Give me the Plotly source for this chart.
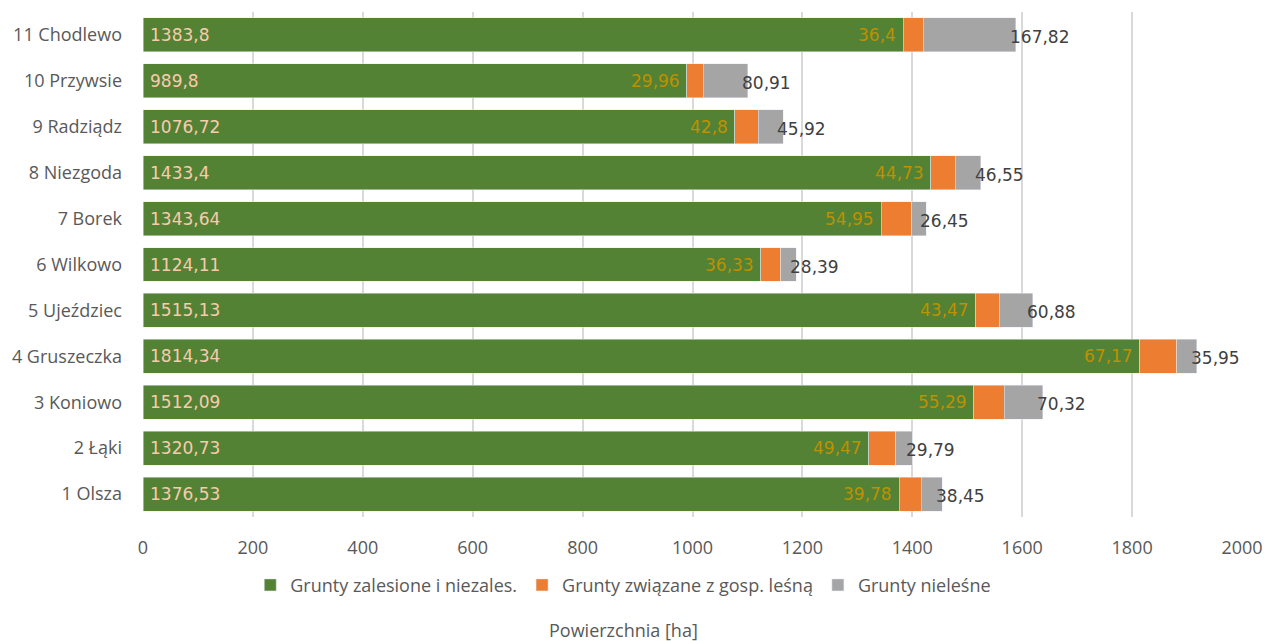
import plotly.graph_objects as go

categories = ["1 Olsza", "2 Łąki", "3 Koniowo", "4 Gruszeczka", "5 Ujeździec", "6 Wilkowo",
              "7 Borek", "8 Niezgoda", "9 Radziądz", "10 Przywsie", "11 Chodlewo"]
zalesione = [1376.53, 1320.73, 1512.09, 1814.34, 1515.13, 1124.11, 1343.64, 1433.4, 1076.72, 989.8, 1383.8]
zwiazane = [39.78, 49.47, 55.29, 67.17, 43.47, 36.33, 54.95, 44.73, 42.8, 29.96, 36.4]
nielesne = [38.45, 29.79, 70.32, 35.95, 60.88, 28.39, 26.45, 46.55, 45.92, 80.91, 167.82]
series_names = ["Grunty zalesione i niezales.", "Grunty związane z gosp. leśną", "Grunty nieleśne"]
x_ticks = [0, 200, 400, 600, 800, 1000, 1200, 1400, 1600, 1800, 2000]

def fmt(v):
    return str(v).replace(".", ",")

LABEL_FONT = "DejaVu Sans"
AXIS_FONT = "Open Sans"

fig = go.Figure()
fig.add_trace(go.Bar(y=categories, x=zalesione, orientation="h", name=series_names[0],
                     marker=dict(color="#548235")))
fig.add_trace(go.Bar(y=categories, x=zwiazane, orientation="h", name=series_names[1],
                     marker=dict(color="#ED7D31")))
fig.add_trace(go.Bar(y=categories, x=nielesne, orientation="h", name=series_names[2],
                     marker=dict(color="#A5A5A5")))

annotations = []
for c, g, o, n in zip(categories, zalesione, zwiazane, nielesne):
    annotations.append(dict(x=0, y=c, xref="x", yref="y", text=fmt(g), showarrow=False,
                            xanchor="left", xshift=5,
                            font=dict(family=LABEL_FONT, size=17, color="#F8CBAD")))
    annotations.append(dict(x=g, y=c, xref="x", yref="y", text=fmt(o), showarrow=False,
                            xanchor="right", xshift=-5,
                            font=dict(family=LABEL_FONT, size=17, color="#BF9000")))
    annotations.append(dict(x=g + o + n, y=c, xref="x", yref="y", text=fmt(n), showarrow=False,
                            xanchor="left", xshift=-8, yshift=-2,
                            font=dict(family=LABEL_FONT, size=17, color="#404040")))
annotations.append(dict(x=0.437, y=-0.223, xref="paper", yref="paper", text="Powierzchnia [ha]",
                        showarrow=False, xanchor="center", yanchor="middle",
                        font=dict(family=AXIS_FONT, size=18, color="#595959")))

fig.update_layout(
    width=1267, height=641,
    barmode="stack", bargap=0.26,
    plot_bgcolor="white", paper_bgcolor="white",
    margin=dict(l=143, r=25, t=12, b=124),
    xaxis=dict(range=[0, 2000], tickvals=x_ticks, ticktext=[str(t) for t in x_ticks],
               showgrid=True, gridcolor="#D9D9D9", gridwidth=1.5, zeroline=False,
               tickfont=dict(family=AXIS_FONT, size=18, color="#595959"), ticks="",
               ticklabelstandoff=18, automargin=False),
    yaxis=dict(showgrid=False, tickfont=dict(family=AXIS_FONT, size=18, color="#595959"),
               ticks="", ticklabelstandoff=20, automargin=False),
    legend=dict(orientation="h", x=0.437, xanchor="center", y=-0.135, yanchor="middle",
                font=dict(family=AXIS_FONT, size=18, color="#595959"), traceorder="normal",
                itemwidth=30),
    showlegend=True,
    annotations=annotations,
)
fig.write_html("out.html")
